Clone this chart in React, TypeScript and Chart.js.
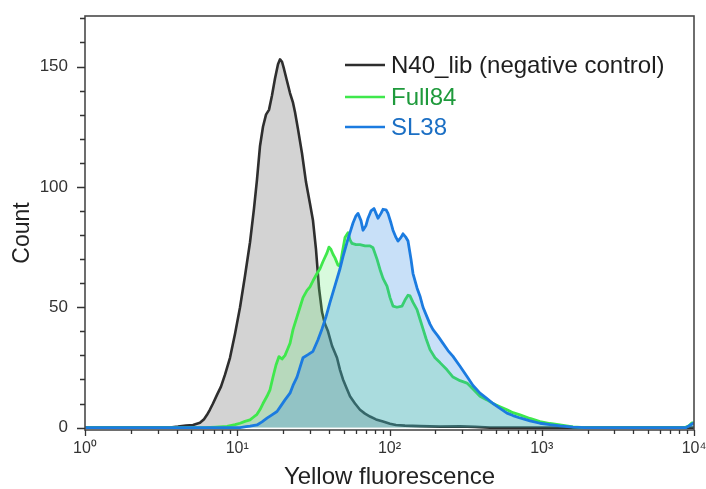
import React, { useEffect, useRef } from 'react';
import { Chart, registerables } from 'chart.js';

Chart.register(...registerables);

const seriesLabels = ['N40_lib (negative control)', 'Full84', 'SL38'];
const lineColors = ['#2e2e2e', '#3fe84c', '#1b7be0'];
const fillColors = ['rgba(150,150,150,0.42)', 'rgba(100,235,120,0.25)', 'rgba(35,131,227,0.25)'];
const legendTextColors = ['#1e1e1e', '#1f9a3c', '#1b6fc4'];

const xTitle = 'Yellow fluorescence';
const yTitle = 'Count';
const xTickValues = [1, 10, 100, 1000, 10000];
const xTickLabels = ['10⁰', '10¹', '10²', '10³', '10⁴'];
const yTickLabels = [0, 50, 100, 150];

const n40X = [1, 3.62, 4.08, 4.61, 5.12, 5.69, 6.05, 6.33, 6.62, 6.93, 7.36, 7.82, 8.31, 8.96, 9.67, 10.43, 11.24, 12.13, 12.88, 13.48, 14.11, 14.76, 15.45, 16.16, 16.91, 17.7, 18.52, 19.1, 19.68, 20.28, 21.22, 22.21, 23.24, 23.96, 25.06, 26.62, 28.28, 30.05, 31.44, 32.9, 34.43, 36.03, 37.7, 39.45, 41.91, 45.2, 47.3, 49.5, 51.79, 55.02, 59.34, 64.01, 69.03, 74.46, 81.53, 90.64, 100.8, 110.3, 126.4, 158.6, 214.6, 290.5, 364.4, 457.2, 10000];
const n40Y = [0, 0, 0.4, 0.9, 1.1, 2, 3.5, 5.3, 7.5, 10, 13.6, 17, 22, 29, 39, 50, 63, 77, 91, 103, 117, 125, 130, 132, 138, 145, 151, 153, 152, 149, 144, 139, 135, 131, 124, 114, 102, 93, 86, 74, 58, 48, 43, 40, 34, 29, 24, 20, 17, 13, 10, 7.4, 5.8, 4.6, 3.4, 2.5, 1.6, 1.1, 0.8, 0.6, 0.4, 0.5, 0.3, 0, 0];

const full84X = [1, 6.14, 7.25, 8.56, 9.67, 10.43, 11.24, 12.13, 12.69, 13.48, 14.11, 14.76, 15.68, 16.41, 17.17, 17.97, 18.8, 19.68, 20.59, 21.54, 22.21, 23.24, 24.68, 25.83, 27.03, 28.72, 30.05, 31.44, 33.4, 34.95, 36.58, 38.86, 40.05, 41.28, 42.55, 43.85, 45.9, 47.3, 48.75, 51.02, 53.39, 55.02, 56.71, 60.25, 64.01, 69.03, 74.46, 77.92, 82.77, 86.61, 90.64, 96.29, 100.8, 105.4, 112.0, 120.8, 126.4, 132.3, 136.3, 142.7, 151.6, 158.6, 166.0, 173.7, 184.5, 199.0, 214.6, 238.6, 261.3, 290.5, 322.9, 353.5, 393.0, 436.9, 478.6, 531.8, 591.2, 647.4, 719.7, 837.2, 973.8, 1133, 1318, 1604, 1923, 8727, 9271, 9701, 10000];
const full84Y = [0, 0, 0.2, 0.5, 1.2, 1.8, 2.6, 3.2, 4.2, 5.5, 7.5, 10, 13, 15.7, 21, 26, 29.5, 28.5, 30, 33, 35, 40.7, 46, 50, 54, 57, 58.5, 61, 64, 66, 69, 72.6, 75, 74, 72, 70.5, 67.5, 67, 72, 79, 81, 78, 76.5, 76, 76, 75.5, 75.5, 74.7, 70, 65.7, 62, 58.8, 54, 50.5, 50, 50.5, 53, 55, 54.7, 52, 49, 45, 41, 37, 32.4, 29, 27, 24, 21, 19.5, 18.5, 16, 13, 11.5, 10, 8.7, 7.4, 6.2, 5.3, 3.8, 2.5, 1.7, 1.1, 0.3, 0, 0, 0.8, 2, 2];

const sl38X = [1, 10.43, 11.41, 12.13, 13.48, 14.54, 15.68, 16.91, 18.24, 19.1, 20.59, 22.21, 23.24, 24.68, 25.83, 27.03, 29.16, 31.44, 33.91, 36.03, 38.27, 40.66, 43.85, 47.3, 49.5, 52.59, 55.02, 57.58, 60.25, 62.1, 64.98, 66.98, 70.09, 72.25, 75.59, 79.1, 81.53, 84.03, 87.93, 90.64, 94.85, 97.76, 102.3, 105.4, 110.3, 113.7, 119.0, 122.6, 128.3, 132.3, 138.4, 142.7, 151.6, 158.6, 166.0, 176.3, 184.5, 193.1, 208.2, 224.6, 242.2, 261.3, 290.5, 322.9, 353.5, 393.0, 436.9, 478.6, 531.8, 591.2, 647.4, 719.7, 837.2, 973.8, 1133, 1318, 1604, 1923, 8860, 9412, 10000];
const sl38Y = [0, 0, 0.4, 0.6, 1.1, 2.4, 3.9, 5.3, 6.7, 8.5, 11.5, 14.3, 17.5, 21, 25, 29, 30.3, 31.7, 36.5, 41, 46, 52, 59, 66, 71, 77, 81, 85, 88, 89, 86, 82, 84, 87, 90, 91, 89, 87, 89, 90.7, 90.5, 89, 85, 82, 79, 77.5, 79, 80.5, 79, 77.5, 70, 64, 58, 54.6, 50, 46, 43, 40.7, 38, 35, 32, 29.6, 25.5, 21.2, 17.5, 14.3, 12, 10, 8, 6, 5, 4, 2.8, 1.8, 1.2, 0.7, 0.2, 0, 0, 1, 2];

const FONT = "'Liberation Sans', Arial, Helvetica, sans-serif";

const toPoints = (xs: number[], ys: number[]) => xs.map((x, i) => ({ x, y: ys[i] }));

const frameTicksPlugin = {
  id: 'frameTicks',
  afterDraw(chart: any) {
    const { ctx, chartArea } = chart;
    const { left, right, top, bottom } = chartArea;
    const xs = chart.scales.x;
    const ys = chart.scales.y;
    ctx.save();
    ctx.strokeStyle = '#4a4a4a';
    ctx.lineWidth = 1.6;
    ctx.strokeRect(left, top, right - left, bottom - top);
    ctx.strokeStyle = '#333';
    ctx.lineWidth = 1.3;
    ctx.beginPath();
    for (let e = 0; e <= 4; e++) {
      for (let k = 1; k <= 9; k++) {
        if (e === 4 && k > 1) break;
        const v = k * Math.pow(10, e);
        const px = Math.round(xs.getPixelForValue(v)) + 0.5;
        const len = k === 1 ? 6 : 4;
        ctx.moveTo(px, bottom);
        ctx.lineTo(px, bottom + len);
      }
    }
    for (let v = 0; v <= 170; v += 10) {
      const py = Math.round(ys.getPixelForValue(v)) + 0.5;
      const len = v % 50 === 0 ? 8 : 5;
      ctx.moveTo(left - len, py);
      ctx.lineTo(left, py);
    }
    ctx.stroke();

    // y axis title
    ctx.fillStyle = '#222';
    ctx.font = `23px ${FONT}`;
    ctx.textAlign = 'center';
    ctx.textBaseline = 'middle';
    ctx.translate(23, 233);
    ctx.rotate(-Math.PI / 2);
    ctx.fillText(yTitle, 0, 0);
    ctx.restore();
  },
};

const legendPlugin = {
  id: 'customLegend',
  afterDraw(chart: any) {
    const { ctx } = chart;
    const rows = [65, 97, 127];
    ctx.save();
    ctx.font = `24px ${FONT}`;
    ctx.textBaseline = 'middle';
    ctx.textAlign = 'left';
    chart.data.datasets.forEach((ds: any, i: number) => {
      const y = rows[i];
      ctx.strokeStyle = ds.borderColor;
      ctx.lineWidth = 2.5;
      ctx.beginPath();
      ctx.moveTo(345, y);
      ctx.lineTo(385, y);
      ctx.stroke();
      ctx.fillStyle = legendTextColors[i];
      ctx.fillText(ds.label, 391, y + 1);
    });
    ctx.restore();
  },
};

export default function App() {
  const ref = useRef<HTMLCanvasElement | null>(null);

  useEffect(() => {
    if (!ref.current) return;
    const seriesX = [n40X, full84X, sl38X];
    const seriesY = [n40Y, full84Y, sl38Y];
    const orders = [3, 2, 1];
    const chart = new Chart(ref.current, {
      type: 'line',
      data: {
        datasets: seriesLabels.map((label, i) => ({
          label,
          data: toPoints(seriesX[i], seriesY[i]),
          borderColor: lineColors[i],
          backgroundColor: fillColors[i],
          borderWidth: i === 0 ? 2.6 : 2.8,
          fill: 'origin',
          pointRadius: 0,
          tension: 0,
          borderJoinStyle: 'round',
          order: orders[i],
        })),
      },
      options: {
        responsive: false,
        animation: false,
        layout: { padding: { top: 16, right: 12, left: 0, bottom: 0 } },
        plugins: {
          legend: { display: false },
          tooltip: { enabled: false },
        },
        scales: {
          x: {
            type: 'logarithmic',
            min: 1,
            max: 10000,
            grid: { display: false, drawTicks: false },
            border: { display: false },
            ticks: {
              autoSkip: false,
              maxRotation: 0,
              padding: 9,
              color: '#333',
              font: { family: FONT, size: 16 },
              callback: (value: any) => {
                const i = xTickValues.indexOf(Number(value));
                return i >= 0 ? xTickLabels[i] : '';
              },
            },
            title: {
              display: true,
              text: xTitle,
              color: '#222',
              font: { family: FONT, size: 24, lineHeight: 1 },
              padding: { top: 0, bottom: 0 },
            },
            afterFit: (scale: any) => {
              scale.height = 59;
              scale.paddingLeft = 0;
              scale.paddingRight = 0;
            },
          },
          y: {
            type: 'linear',
            min: -1,
            max: 171,
            grid: { display: false, drawTicks: false },
            border: { display: false },
            ticks: {
              stepSize: 10,
              includeBounds: false,
              autoSkip: false,
              padding: 17,
              color: '#333',
              font: { family: FONT, size: 17 },
              callback: (value: any) => (yTickLabels.includes(Number(value)) ? String(value) : ''),
            },
            afterFit: (scale: any) => {
              scale.width = 85;
              scale.paddingTop = 0;
              scale.paddingBottom = 0;
            },
          },
        },
      } as any,
      plugins: [frameTicksPlugin, legendPlugin],
    });
    return () => chart.destroy();
  }, []);

  return (
    <div style={{ position: 'absolute', left: 0, top: 0, width: 706, height: 489, background: '#fff' }}>
      <canvas ref={ref} width={706} height={489} style={{ display: 'block' }} />
    </div>
  );
}
